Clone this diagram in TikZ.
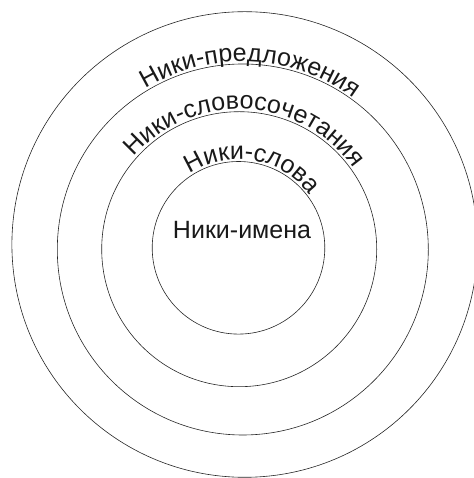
\documentclass[tikz,border=0pt]{standalone}
\usepackage{fontspec}
\setmainfont{Liberation Sans}
\usetikzlibrary{decorations.text}

\newcommand{\ringfont}{\fontsize{25}{30}\selectfont}

\begin{document}
\begin{tikzpicture}[x=1pt, y=1pt,
    ring/.style={draw=black!85, line width=0.6pt},
    ringtext/.style={decorate, decoration={text along path, text align=center,
        text color=black!90, text={|\ringfont|#1}}}]
    \useasboundingbox (0,0) rectangle (473,478);

    \coordinate (c1) at (238.5,230.2);
    \coordinate (c2) at (239.2,228.8);
    \coordinate (c3) at (242.8,228.5);
    \coordinate (c4) at (244.7,233.5);

    \draw[ring] (c1) circle[radius=86.3];
    \draw[ring] (c2) circle[radius=137.5];
    \draw[ring] (c3) circle[radius=185.5];
    \draw[ring] (c4) circle[radius=232.8];

    % labels sit on the top of each ring
    \path[ringtext={Ники-слова}] (c1) ++(150:88.5) arc[start angle=150, end angle=10, radius=88.5];
    \path[ringtext={Ники-словосочетания}] (c2) ++(160:140) arc[start angle=160, end angle=14, radius=140];
    \path[ringtext={Ники-предложения}] (c3) ++(150:188) arc[start angle=150, end angle=25, radius=188];

    \node[anchor=base, text=black!90, font=\ringfont] (names) at (242,239) {Ники-имена};
\end{tikzpicture}
\end{document}
